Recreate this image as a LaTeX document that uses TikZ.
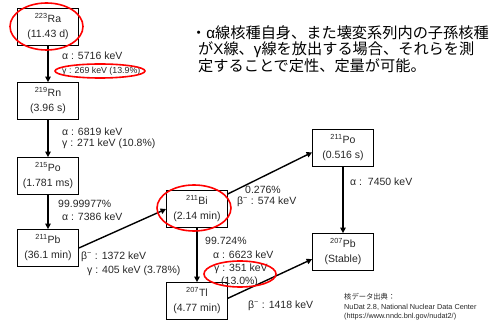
\documentclass[tikz,border=0pt]{standalone}
\usepackage{fontspec}
\setmainfont{Liberation Sans}
\newfontfamily\cjk{Noto Sans CJK JP}
\usetikzlibrary{arrows.meta}
\newcommand\iso[2]{\textsuperscript{#1}#2}
\newcommand\lt[1]{{\normalfont #1}}
\begin{document}
\begin{tikzpicture}[x=1pt,y=-1pt,
  box/.style={draw, line width=0.8pt, minimum width=61pt, minimum height=37pt, inner sep=0pt, align=center, font=\fontsize{10.5}{15}\selectfont, text=black!85},
  lab/.style={anchor=west, inner sep=0pt, font=\fontsize{10.5}{12}\selectfont, text=black!85},
  src/.style={anchor=west, inner sep=0pt, font=\fontsize{7.3}{9}\selectfont, text=black!85},
  jp/.style={anchor=west, inner sep=0pt, align=left, font=\cjk\fontsize{15.2}{16}\selectfont},
  conn/.style={line width=1.4pt, -{Triangle[length=5.5pt,width=5.5pt]}},
  redmark/.style={draw=red, line width=1.6pt}]
\useasboundingbox (0,0) rectangle (491,323);
% boxes
\node[box] (ra) at (48,27) {\iso{223}{Ra}\\(11.43 d)};
\node[box] (rn) at (48,101) {\iso{219}{Rn}\\(3.96 s)};
\node[box] (po215) at (48,176) {\iso{215}{Po}\\(1.781 ms)};
\node[box] (pb211) at (48,248) {\iso{211}{Pb}\\(36.1 min)};
\node[box] (bi) at (197,209) {\iso{211}{Bi}\\(2.14 min)};
\node[box] (tl) at (197,301) {\iso{207}{Tl}\\(4.77 min)};
\node[box] (po211) at (343,148) {\iso{211}{Po}\\(0.516 s)};
\node[box] (pb207) at (343,252) {\iso{207}{Pb}\\(Stable)};
% connectors
\draw[conn] (ra) -- (rn);
\draw[conn] (rn) -- (po215);
\draw[conn] (po215) -- (pb211);
\draw[conn] (pb211.east) -- (bi.west);
\draw[conn] (bi.26) -- (po211.188);
\draw[conn] (bi) -- (tl);
\draw[conn] (po211) -- (pb207);
\draw[conn] (tl.5) -- (pb207.193);
% labels
\node[lab] (l1) at (62,56) {α : 5716 keV};
\node[lab, font=\fontsize{8.8}{10}\selectfont] (l2) at (62,71) {γ : 269 keV (13.9\%)};
\node[lab] (l3) at (62,132) {α : 6819 keV};
\node[lab] (l4) at (62,144) {γ : 271 keV (10.8\%)};
\node[lab] (l5) at (58,204) {99.99977\%};
\node[lab] (l6) at (62,217) {α : 7386 keV};
\node[lab] (l7) at (81,257) {β\textsuperscript{−} : 1372 keV};
\node[lab] (l8) at (87,271) {γ : 405 keV (3.78\%)};
\node[lab] (l9) at (245,190) {0.276\%};
\node[lab] (l10) at (237,202) {β\textsuperscript{−} : 574 keV};
\node[lab] (l11) at (205,241) {99.724\%};
\node[lab] (l12) at (213,255) {α : 6623 keV};
\node[lab] (l13) at (214,269) {γ : 351 keV};
\node[lab] (l14) at (221,282) {(13.0\%)};
\node[lab] (l15) at (248,306) {β\textsuperscript{−} : 1418 keV};
\node[lab] (l16) at (350,182) {α :\ \ 7450 keV};
% source
\node[src] (s1) at (344,297) {\cjk 核データ出典：};
\node[src] (s2) at (344,307) {NuDat 2.8, National Nuclear Data Center};
\node[src] (s3) at (344,317) {(https://www.nndc.bnl.gov/nudat2/)};
% japanese text
\node[jp] (t) at (191,49) {・\lt{α}線核種自身、また壊変系列内の子孫核種\\
  \hspace*{7pt}が\lt{X}線、\lt{γ}線を放出する場合、それらを測\\
  \hspace*{7pt}定することで定性、定量が可能。};
% red marks
\draw[redmark] (46.5,26.5) ellipse [x radius=36.5, y radius=23.5];
\draw[redmark] (100,71) ellipse [x radius=45, y radius=7];
\draw[redmark] (194,208) ellipse [x radius=37, y radius=23];
\draw[redmark] (240,274) ellipse [x radius=36, y radius=13];
\end{tikzpicture}
\end{document}
